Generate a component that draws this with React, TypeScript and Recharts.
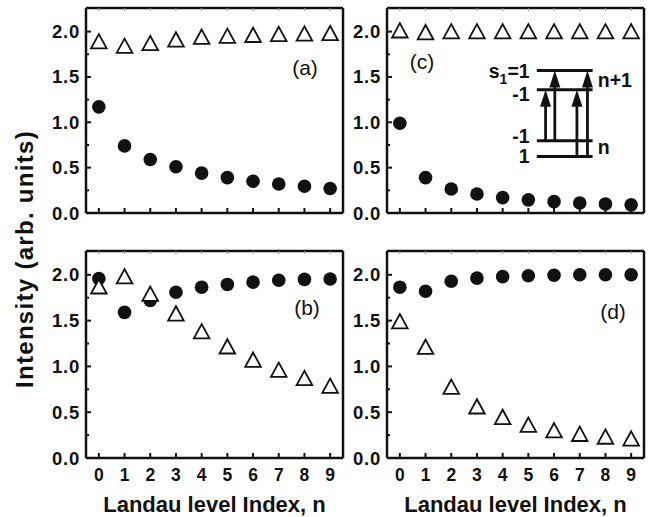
import React from 'react'
import { ComposedChart, Scatter, XAxis, YAxis, ReferenceLine, ReferenceDot } from 'recharts'

const FONT = '"Liberation Sans", Arial, Helvetica, sans-serif'

// Landau level index n
const nIdx = [0, 1, 2, 3, 4, 5, 6, 7, 8, 9]
const yTicks = [0, 0.25, 0.5, 0.75, 1, 1.25, 1.5, 1.75, 2]

// (a)
const aCircles = [1.17, 0.74, 0.59, 0.51, 0.44, 0.39, 0.35, 0.32, 0.295, 0.27]
const aTriangles = [1.89, 1.84, 1.87, 1.91, 1.94, 1.95, 1.96, 1.97, 1.975, 1.98]
// (b)
const bCircles = [1.96, 1.59, 1.72, 1.81, 1.865, 1.895, 1.92, 1.94, 1.95, 1.955]
const bTriangles = [1.87, 1.98, 1.79, 1.575, 1.38, 1.215, 1.07, 0.96, 0.87, 0.785]
// (c)
const cCircles = [0.99, 0.39, 0.265, 0.21, 0.17, 0.145, 0.125, 0.11, 0.1, 0.09]
const cTriangles = [2.01, 1.99, 2.0, 2.0, 2.0, 2.0, 2.0, 2.0, 2.0, 2.0]
// (d)
const dCircles = [1.865, 1.82, 1.93, 1.964, 1.98, 1.99, 1.995, 2.0, 2.0, 2.0]
const dTriangles = [1.49, 1.21, 0.775, 0.56, 0.445, 0.36, 0.3, 0.26, 0.23, 0.21]

// inset level scheme in panel (c), data units
const insetLevels = [1.572, 1.359, 0.796, 0.622]
const insetLevelNames = ['=1', '-1', '-1', '1']
const insetLabelY = [1.56, 1.31, 0.85, 0.63]
const insetSpan = [5.33, 7.5]
const insetArrows = [
  { x: 5.67, from: 0.796, to: 1.359 },
  { x: 6.03, from: 0.796, to: 1.572 },
  { x: 6.89, from: 0.622, to: 1.359 },
  { x: 7.3, from: 0.622, to: 1.572 },
]
const insetRight = [
  { text: 'n+1', y: 1.47 },
  { text: 'n', y: 0.73 },
]

const Dot = (p: any) => <circle cx={p.cx} cy={p.cy} r={6.8} fill="#111" />
const Tri = (p: any) => (
  <polygon
    points={`${p.cx},${p.cy - 7.5} ${p.cx - 7.8},${p.cy + 6.8} ${p.cx + 7.8},${p.cy + 6.8}`}
    fill="#fff"
    stroke="#111"
    strokeWidth={1.8}
    strokeLinejoin="miter"
  />
)

function BottomTick(p: any) {
  return (
    <g>
      <line x1={p.x} y1={p.y} x2={p.x} y2={p.y - 5} stroke="#111" strokeWidth={2} />
      {p.show && (
        <text x={p.x} y={p.y + 23} textAnchor="middle" fontSize={17.5} fontWeight="bold" fontFamily={FONT} fill="#111">
          {p.payload.value}
        </text>
      )}
    </g>
  )
}

const TopTick = (p: any) => (
  <line x1={p.x} y1={p.y} x2={p.x} y2={p.y + 3} stroke="#999" strokeWidth={1} />
)

function LeftTick(p: any) {
  const v = p.payload.value
  const major = Number.isInteger(v * 2)
  return (
    <g>
      <line x1={p.x} y1={p.y} x2={p.x + (major ? 5 : 3)} y2={p.y} stroke="#111" strokeWidth={2} />
      {major && (
        <text
          x={p.x - 6}
          y={p.y + 6.5}
          textAnchor="end"
          fontSize={18.5}
          letterSpacing={0.8}
          fontWeight="bold"
          fontFamily={FONT}
          fill="#111"
        >
          {v.toFixed(1)}
        </text>
      )}
    </g>
  )
}

function RightTick(p: any) {
  const major = Number.isInteger(p.payload.value * 2)
  return <line x1={p.x} y1={p.y} x2={p.x - (major ? 5 : 3)} y2={p.y} stroke="#111" strokeWidth={2} />
}

function Arrow(p: any) {
  const { x1, y1, y2 } = p
  const top = Math.min(y1, y2)
  const bot = Math.max(y1, y2)
  return (
    <g>
      <line x1={x1} y1={bot} x2={x1} y2={top + 10} stroke="#111" strokeWidth={2.8} />
      <polygon points={`${x1},${top} ${x1 - 5.5},${top + 17} ${x1 + 5.5},${top + 17}`} fill="#111" />
    </g>
  )
}

function Panel({ left, top, w, h, circles, triangles, labels, inset }: any) {
  const data = nIdx.map((n, i) => ({ n, c: circles[i], t: triangles[i] }))
  const bottomH = labels ? 30 : 14
  const axisLine = { stroke: '#111', strokeWidth: 2.5 }
  return (
    <div style={{ position: 'absolute', left: left - 45, top: top - 6 }}>
      <ComposedChart
        width={45 + w + 6}
        height={6 + h + bottomH}
        data={data}
        margin={{ top: 0, right: 0, bottom: 0, left: 0 }}
      >
        <XAxis
          xAxisId="b"
          dataKey="n"
          type="number"
          domain={[-0.5, 9.5]}
          ticks={nIdx}
          interval={0}
          height={bottomH}
          tickSize={0}
          tickMargin={0}
          tickLine={false}
          axisLine={axisLine}
          tick={(p: any) => <BottomTick {...p} show={labels} />}
        />
        <XAxis
          xAxisId="t"
          orientation="top"
          dataKey="n"
          type="number"
          domain={[-0.5, 9.5]}
          ticks={nIdx}
          interval={0}
          height={6}
          tickSize={0}
          tickMargin={0}
          tickLine={false}
          axisLine={axisLine}
          tick={(p: any) => <TopTick {...p} />}
        />
        <YAxis
          yAxisId="l"
          type="number"
          domain={[0, 2.26]}
          ticks={yTicks}
          interval={0}
          width={45}
          tickSize={0}
          tickMargin={0}
          tickLine={false}
          axisLine={axisLine}
          tick={(p: any) => <LeftTick {...p} />}
        />
        <YAxis
          yAxisId="r"
          orientation="right"
          type="number"
          domain={[0, 2.26]}
          ticks={yTicks}
          interval={0}
          width={6}
          tickSize={0}
          tickMargin={0}
          tickLine={false}
          axisLine={axisLine}
          tick={(p: any) => <RightTick {...p} />}
        />
        <Scatter xAxisId="b" yAxisId="l" dataKey="c" shape={Dot} isAnimationActive={false} />
        <Scatter xAxisId="b" yAxisId="l" dataKey="t" shape={Tri} isAnimationActive={false} />
        {inset &&
          insetLevels.map((y, i) => (
            <ReferenceLine
              key={'lv' + i}
              xAxisId="b"
              yAxisId="l"
              segment={[{ x: insetSpan[0], y }, { x: insetSpan[1], y }]}
              stroke="#111"
              strokeWidth={3}
            />
          ))}
        {inset &&
          insetArrows.map((a, i) => (
            <ReferenceLine
              key={'ar' + i}
              xAxisId="b"
              yAxisId="l"
              segment={[{ x: a.x, y: a.from }, { x: a.x, y: a.to }]}
              shape={Arrow}
            />
          ))}
        {inset &&
          insetLabelY.map((y, i) => (
            <ReferenceDot
              key={'lt' + i}
              xAxisId="b"
              yAxisId="l"
              x={insetSpan[0] - 0.28}
              y={y}
              r={0}
              shape={(p: any) => (
                <text x={p.cx} y={p.cy + 7} textAnchor="end" fontSize={19.5} fontWeight="bold" fontFamily={FONT} fill="#111">
                  {i === 0 && <tspan>s</tspan>}
                  {i === 0 && (
                    <tspan dy={6} fontSize={14}>
                      1
                    </tspan>
                  )}
                  <tspan dy={i === 0 ? -6 : 0}>{insetLevelNames[i]}</tspan>
                </text>
              )}
            />
          ))}
        {inset &&
          insetRight.map((r, i) => (
            <ReferenceDot
              key={'rt' + i}
              xAxisId="b"
              yAxisId="l"
              x={insetSpan[1] + 0.2}
              y={r.y}
              r={0}
              shape={(p: any) => (
                <text x={p.cx} y={p.cy + 7} textAnchor="start" fontSize={19.5} fontWeight="bold" fontFamily={FONT} fill="#111">
                  {r.text}
                </text>
              )}
            />
          ))}
      </ComposedChart>
    </div>
  )
}

const panelLabels = [
  { text: '(a)', x: 305, y: 75 },
  { text: '(c)', x: 422, y: 69 },
  { text: '(b)', x: 307, y: 315 },
  { text: '(d)', x: 613, y: 319 },
]

export default function App() {
  return (
    <div style={{ position: 'absolute', left: 0, top: 0, width: 650, height: 517, background: '#fff', fontFamily: FONT }}>
      <Panel left={86} top={8} w={257} h={205} circles={aCircles} triangles={aTriangles} />
      <Panel left={387} top={8} w={257} h={205} circles={cCircles} triangles={cTriangles} inset />
      <Panel left={86} top={251} w={257} h={207} circles={bCircles} triangles={bTriangles} labels />
      <Panel left={387} top={251} w={257} h={207} circles={dCircles} triangles={dTriangles} labels />
      <svg width={650} height={517} style={{ position: 'absolute', left: 0, top: 0, pointerEvents: 'none' }}>
        <text
          transform="translate(33,259) rotate(-90)"
          textAnchor="middle"
          fontSize={24}
          letterSpacing={1.3}
          fontWeight="bold"
          fontFamily={FONT}
          fill="#111"
        >
          Intensity (arb. units)
        </text>
        <text x={214.5} y={512} textAnchor="middle" fontSize={22} fontWeight="bold" fontFamily={FONT} fill="#111">
          Landau level Index, n
        </text>
        <text x={515.5} y={512} textAnchor="middle" fontSize={22} fontWeight="bold" fontFamily={FONT} fill="#111">
          Landau level Index, n
        </text>
        {panelLabels.map((l) => (
          <text key={l.text} x={l.x} y={l.y} textAnchor="middle" fontSize={21} fontFamily={FONT} fill="#111">
            {l.text}
          </text>
        ))}
      </svg>
    </div>
  )
}
